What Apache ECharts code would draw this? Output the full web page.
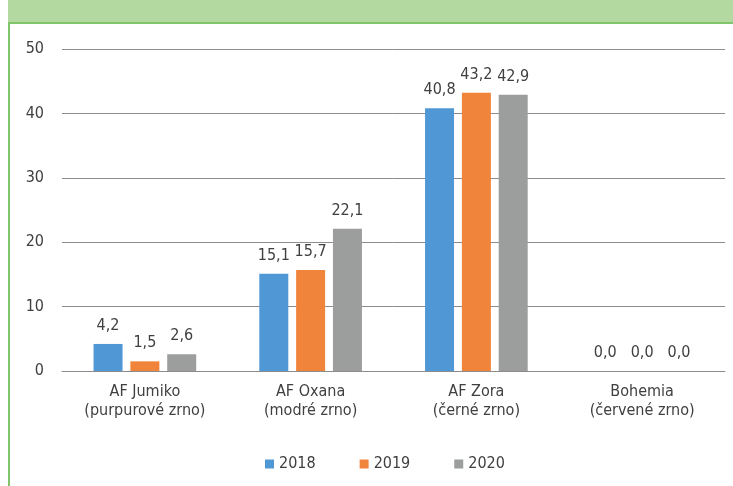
<!DOCTYPE html>
<html>
<head>
<meta charset="utf-8">
<script src="https://cdn.jsdelivr.net/npm/echarts@6/dist/echarts.min.js"></script>
<style>
  html, body { margin: 0; padding: 0; background: #fff; }
  #chart { width: 733px; height: 486px; }
</style>
</head>
<body>
<div id="chart"></div>
<script>
var categories = ['AF Jumiko\n(purpurové zrno)', 'AF Oxana\n(modré zrno)', 'AF Zora\n(černé zrno)', 'Bohemia\n(červené zrno)'];
var years = ['2018', '2019', '2020'];
var values2018 = [4.2, 15.1, 40.8, 0.0];
var values2019 = [1.5, 15.7, 43.2, 0.0];
var values2020 = [2.6, 22.1, 42.9, 0.0];
var colors = ['#5097d5', '#f0843a', '#9c9d9d'];

var font = '"Liberation Sans Narrow", "DejaVu Sans Condensed", sans-serif';
var chart = echarts.init(document.getElementById('chart'));

function makeSeries(name, data, color) {
    return {
        name: name,
        type: 'bar',
        data: data,
        barWidth: 29,
        barGap: '27%',
        itemStyle: { color: color },
        label: {
            show: true,
            position: 'top',
            distance: 10,
            color: '#404040',
            fontSize: 16,
            fontFamily: font,
            formatter: function (p) { return p.value.toFixed(1).replace('.', ','); }
        }
    };
}

chart.setOption({
    animation: false,
    color: colors,
    graphic: [
        { type: 'rect', shape: { x: 8, y: 0, width: 725, height: 22 }, style: { fill: '#b3d9a0' }, silent: true },
        { type: 'rect', shape: { x: 8, y: 22, width: 725, height: 2 }, style: { fill: '#80c56c' }, silent: true },
        { type: 'rect', shape: { x: 8, y: 22, width: 2, height: 464 }, style: { fill: '#80c56c' }, silent: true }
    ],
    grid: { left: 62, right: 8, top: 49, bottom: 115, containLabel: false },
    legend: {
        data: years,
        bottom: 9,
        left: 260,
        itemWidth: 9,
        itemHeight: 9,
        itemGap: 44,
        icon: 'rect',
        textStyle: { color: '#404040', fontSize: 16, fontFamily: font }
    },
    xAxis: {
        type: 'category',
        data: categories,
        axisTick: { show: false },
        axisLine: { lineStyle: { color: '#8c8c8c', width: 1 } },
        axisLabel: { color: '#404040', fontSize: 16, fontFamily: font, lineHeight: 19, margin: 11, interval: 0 }
    },
    yAxis: {
        type: 'value',
        min: 0,
        max: 50,
        interval: 10,
        axisLine: { show: false },
        axisTick: { show: false },
        splitLine: { lineStyle: { color: '#8c8c8c', width: 1 } },
        axisLabel: { color: '#404040', fontSize: 16, fontFamily: font, margin: 18 }
    },
    series: [
        makeSeries(years[0], values2018, colors[0]),
        makeSeries(years[1], values2019, colors[1]),
        makeSeries(years[2], values2020, colors[2])
    ]
});
</script>
</body>
</html>
